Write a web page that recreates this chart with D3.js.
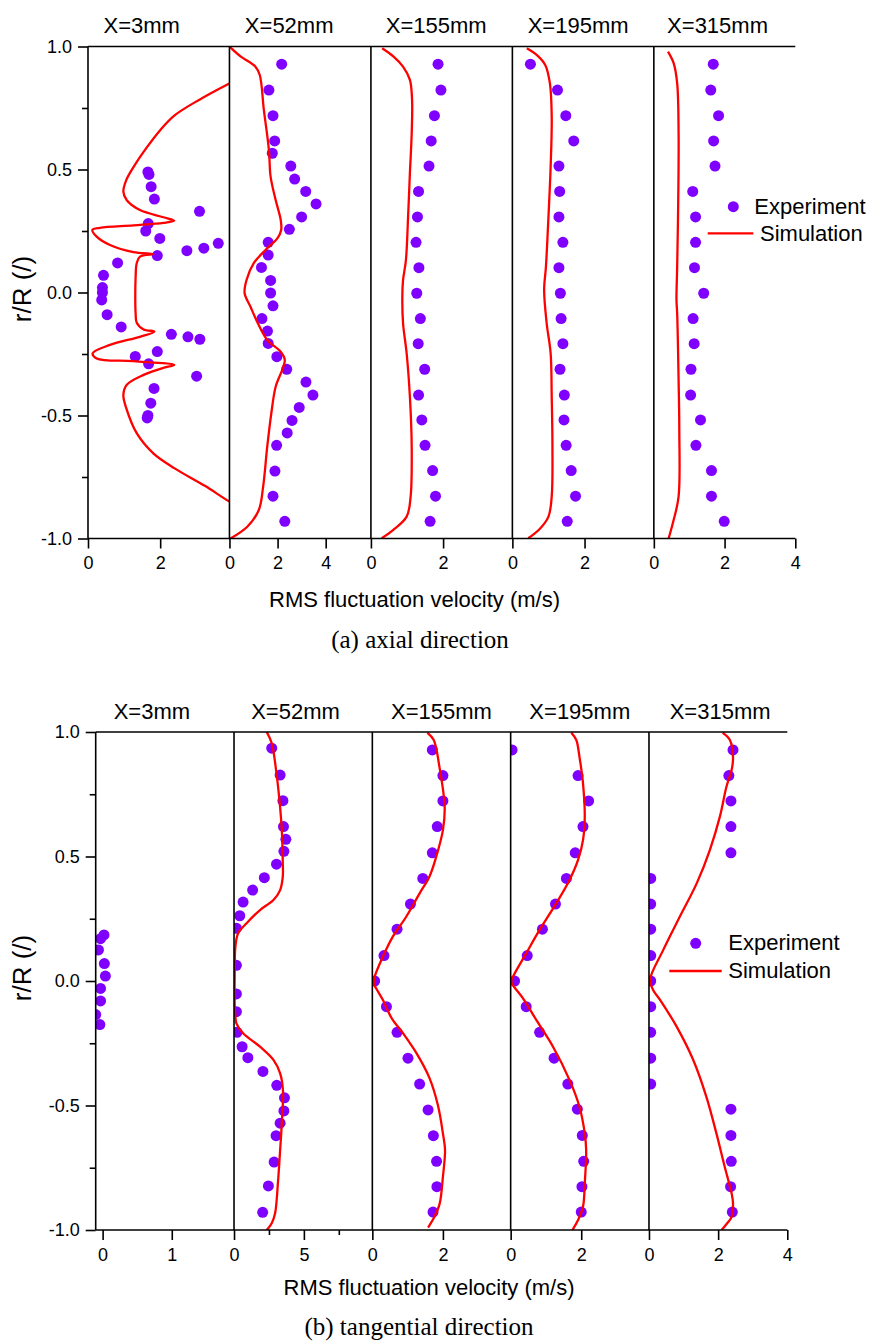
<!DOCTYPE html>
<html><head><meta charset="utf-8">
<script src="https://cdn.jsdelivr.net/npm/d3@7"></script>
<style>body{margin:0;background:#fff;} svg{display:block;}</style>
</head><body>
<svg id="chart" width="871" height="1342"></svg>
<script>
// ---------------- DATA ----------------
const stations = ["X=3mm", "X=52mm", "X=155mm", "X=195mm", "X=315mm"];
const yTicks = [1.0, 0.5, 0.0, -0.5, -1.0];
const yMinorTicks = [0.75, 0.25, -0.25, -0.75];
const xLabel = "RMS fluctuation velocity (m/s)";
const yLabel = "r/R (/)";
const legendLabels = ["Experiment", "Simulation"];
const captions = ["(a) axial direction", "(b) tangential direction"];

const axialXDomains = [[0, 3.92], [0, 5.88], [0, 3.92], [0, 3.92], [0, 4]];
const axialXTicks = [[0, 2], [0, 2, 4], [0, 2], [0, 2], [0, 2, 4]];
const tangXDomains = [[-0.1, 1.9], [0, 9.9], [0, 3.92], [0, 3.92], [0, 4]];
const tangXTicks = [[0, 1], [0, 5], [0, 2], [0, 2], [0, 2, 4]];
const tangXMinor = [[], [2.5, 7.5], [], [], []];

// points are [velocity, r/R]
const axialExp3 = [[1.66,0.49],[1.69,0.48],[1.75,0.43],[1.84,0.38],[3.09,0.33],[1.67,0.28],[1.60,0.25],[1.99,0.22],[2.74,0.17],[3.21,0.18],[3.61,0.20],[1.92,0.15],[0.82,0.12],[0.43,0.07],[0.40,0.02],[0.40,0.00],[0.38,-0.03],[0.53,-0.09],[0.92,-0.14],[2.31,-0.17],[2.77,-0.18],[3.10,-0.19],[1.92,-0.24],[1.31,-0.26],[1.68,-0.29],[3.01,-0.34],[1.83,-0.39],[1.74,-0.45],[1.66,-0.50],[1.64,-0.51]];
const axialSim3 = [[4.6,0.90],[3.92,0.85],[3.10,0.785],[2.40,0.72],[2.0,0.66],[1.63,0.59],[1.26,0.51],[1.06,0.457],[0.98,0.41],[1.07,0.376],[1.44,0.335],[2.09,0.306],[2.39,0.292],[2.09,0.283],[1.26,0.273],[0.33,0.263],[0.12,0.254],[0.24,0.227],[0.61,0.193],[1.26,0.164],[1.81,0.156],[1.44,0.146],[1.35,0.119],[1.32,0.064],[1.31,-0.03],[1.32,-0.085],[1.35,-0.123],[1.54,-0.150],[1.84,-0.159],[1.44,-0.18],[0.61,-0.213],[0.13,-0.247],[0.24,-0.268],[1.26,-0.279],[2.39,-0.295],[2.09,-0.306],[1.54,-0.335],[1.07,-0.376],[0.98,-0.417],[1.06,-0.47],[1.35,-0.572],[1.81,-0.654],[2.40,-0.715],[3.25,-0.787],[3.92,-0.85],[4.6,-0.90]];

const axialExp52 = [[2.17,0.928],[1.64,0.823],[1.81,0.719],[1.88,0.616],[1.78,0.566],[2.55,0.514],[2.71,0.461],[3.17,0.411],[3.60,0.36],[3.00,0.307],[2.49,0.257],[1.61,0.204],[1.61,0.152],[1.33,0.102],[1.71,0.049],[1.71,-0.002],[1.81,-0.054],[1.35,-0.106],[1.58,-0.157],[1.61,-0.207],[1.97,-0.261],[2.38,-0.312],[3.18,-0.364],[3.47,-0.417],[2.90,-0.467],[2.60,-0.52],[2.40,-0.571],[1.96,-0.621],[1.89,-0.726],[1.81,-0.828],[2.30,-0.93]];
const axialSim52 = [[0,1.0],[0.46,0.96],[1.08,0.918],[1.26,0.884],[1.43,0.742],[1.64,0.579],[1.71,0.471],[1.92,0.376],[2.13,0.295],[2.15,0.254],[1.99,0.22],[1.5,0.173],[1.01,0.119],[0.71,0.051],[0.63,-0.003],[0.875,-0.058],[1.15,-0.119],[1.57,-0.193],[2.13,-0.241],[2.30,-0.274],[2.19,-0.315],[1.92,-0.383],[1.74,-0.491],[1.57,-0.627],[1.40,-0.789],[1.22,-0.884],[0.74,-0.952],[0.04,-1.0]];

const axialExp155 = [[1.86,0.928],[1.94,0.823],[1.76,0.719],[1.67,0.616],[1.61,0.514],[1.32,0.411],[1.29,0.307],[1.25,0.204],[1.33,0.101],[1.27,-0.003],[1.37,-0.106],[1.31,-0.208],[1.49,-0.312],[1.32,-0.417],[1.41,-0.518],[1.50,-0.621],[1.71,-0.724],[1.79,-0.828],[1.64,-0.93]];
const axialSim155 = [[0.31,0.993],[0.62,0.96],[0.89,0.918],[1.08,0.864],[1.14,0.783],[1.13,0.647],[1.08,0.485],[1.03,0.308],[0.97,0.132],[0.89,0.05],[0.87,-0.02],[0.89,-0.125],[0.99,-0.247],[1.08,-0.424],[1.13,-0.627],[1.10,-0.83],[0.99,-0.911],[0.62,-0.965],[0.30,-0.999]];

const axialExp195 = [[0.50,0.928],[1.25,0.823],[1.48,0.719],[1.70,0.616],[1.29,0.514],[1.31,0.411],[1.29,0.307],[1.40,0.204],[1.29,0.101],[1.33,-0.003],[1.35,-0.106],[1.40,-0.208],[1.32,-0.312],[1.44,-0.417],[1.43,-0.518],[1.49,-0.621],[1.63,-0.724],[1.75,-0.828],[1.52,-0.93]];
const axialSim195 = [[0.40,0.993],[0.68,0.965],[0.91,0.925],[1.04,0.85],[1.09,0.715],[1.06,0.511],[1.0,0.308],[0.93,0.105],[0.88,0.01],[0.95,-0.125],[1.06,-0.247],[1.09,-0.424],[1.11,-0.627],[1.09,-0.83],[1.0,-0.911],[0.77,-0.959],[0.44,-0.999]];

const axialExp315 = [[1.68,0.928],[1.61,0.823],[1.83,0.719],[1.69,0.616],[1.73,0.514],[1.10,0.411],[1.18,0.307],[1.18,0.204],[1.15,0.101],[1.41,-0.003],[1.11,-0.106],[1.14,-0.208],[1.05,-0.312],[1.04,-0.417],[1.32,-0.518],[1.19,-0.621],[1.63,-0.724],[1.63,-0.828],[1.99,-0.93]];
const axialSim315 = [[0.40,0.979],[0.56,0.932],[0.66,0.85],[0.70,0.647],[0.69,0.376],[0.66,0.105],[0.64,-0.03],[0.66,-0.085],[0.70,-0.356],[0.72,-0.559],[0.70,-0.83],[0.56,-0.925],[0.42,-0.999]];

const tangExp3 = [[0.02,0.185],[-0.03,0.17],[-0.06,0.125],[0.025,0.07],[0.04,0.02],[-0.03,-0.03],[-0.03,-0.08],[-0.1,-0.135],[-0.04,-0.175]];
const tangSim3 = [];

const tangExp52 = [[2.70,0.935],[3.30,0.827],[3.50,0.724],[3.54,0.62],[3.71,0.569],[3.57,0.521],[3.04,0.469],[2.17,0.415],[1.33,0.365],[0.65,0.317],[0.41,0.262],[0.17,0.212],[0.17,0.063],[0.17,-0.052],[0.17,-0.123],[0.22,-0.206],[0.58,-0.264],[0.99,-0.308],[2.07,-0.363],[3.06,-0.419],[3.61,-0.469],[3.57,-0.522],[3.30,-0.571],[3.01,-0.621],[2.87,-0.727],[2.46,-0.823],[2.05,-0.929]];
const tangSim52 = [[2.34,1.0],[2.70,0.955],[3.01,0.847],[3.25,0.727],[3.42,0.606],[3.49,0.473],[3.49,0.419],[3.30,0.365],[2.82,0.325],[1.86,0.285],[0.90,0.232],[0.29,0.191],[0.10,0.138],[0.05,0.031],[0.05,-0.1],[0.10,-0.143],[0.17,-0.17],[0.65,-0.21],[1.86,-0.264],[2.82,-0.317],[3.30,-0.371],[3.50,-0.438],[3.42,-0.571],[3.30,-0.679],[3.14,-0.813],[2.94,-0.933],[2.70,-0.973],[2.34,-1.0]];

const tangExp155 = [[1.70,0.928],[2.0,0.825],[2.0,0.723],[1.84,0.62],[1.70,0.515],[1.43,0.412],[1.08,0.309],[0.70,0.208],[0.33,0.102],[0.065,0.0],[0.40,-0.103],[0.70,-0.206],[1.01,-0.31],[1.34,-0.414],[1.58,-0.518],[1.73,-0.621],[1.82,-0.724],[1.83,-0.826],[1.72,-0.928]];
const tangSim155 = [[1.56,0.997],[1.74,0.968],[1.90,0.861],[2.05,0.70],[2.0,0.606],[1.81,0.499],[1.62,0.42],[1.34,0.352],[0.96,0.258],[0.58,0.178],[0.30,0.098],[0.065,0.017],[0.04,-0.01],[0.11,-0.03],[0.30,-0.076],[0.55,-0.15],[0.87,-0.21],[1.25,-0.29],[1.62,-0.39],[1.86,-0.5],[2.0,-0.612],[2.06,-0.679],[2.0,-0.786],[1.91,-0.893],[1.76,-0.947],[1.58,-0.99]];

const tangExp195 = [[0.04,0.928],[1.91,0.825],[2.21,0.723],[2.05,0.62],[1.83,0.515],[1.58,0.412],[1.27,0.309],[0.90,0.208],[0.47,0.102],[0.11,0.0],[0.44,-0.103],[0.82,-0.206],[1.23,-0.31],[1.62,-0.414],[1.89,-0.515],[2.03,-0.62],[2.07,-0.724],[2.02,-0.826],[2.0,-0.928]];
const tangSim195 = [[1.72,0.997],[1.86,0.968],[1.95,0.90],[2.05,0.794],[2.10,0.66],[2.05,0.566],[1.91,0.486],[1.67,0.406],[1.29,0.312],[0.82,0.205],[0.44,0.111],[0.065,0.017],[0.02,-0.003],[0.35,-0.07],[0.73,-0.157],[1.20,-0.264],[1.67,-0.398],[1.95,-0.505],[2.10,-0.612],[2.14,-0.679],[2.10,-0.813],[2.05,-0.907],[1.91,-0.96],[1.75,-1.0]];

const tangExp315 = [[2.43,0.928],[2.31,0.825],[2.37,0.723],[2.37,0.62],[2.37,0.515],[0.05,0.412],[0.05,0.309],[0.05,0.208],[0.05,0.102],[0.05,0.0],[0.05,-0.103],[0.05,-0.206],[0.05,-0.31],[0.05,-0.414],[2.37,-0.515],[2.37,-0.62],[2.38,-0.724],[2.36,-0.826],[2.41,-0.928]];
const tangSim315 = [[2.13,0.997],[2.34,0.968],[2.43,0.90],[2.39,0.847],[2.24,0.78],[2.05,0.66],[1.76,0.526],[1.38,0.392],[0.89,0.258],[0.41,0.124],[0.03,0.004],[0.12,-0.036],[0.32,-0.076],[0.80,-0.183],[1.28,-0.317],[1.66,-0.465],[1.95,-0.612],[2.19,-0.746],[2.39,-0.853],[2.43,-0.893],[2.39,-0.947],[2.25,-0.975],[2.10,-1.0]];

// ---------------- LAYOUT / STYLE ----------------
const FONT = "'Liberation Sans', Arial, Helvetica, sans-serif";
const SERIF = "'Liberation Serif', 'Times New Roman', serif";
const DOT = "#7f00ff";
const RED = "#ff0000";

const blocks = [
  {
    left: 88, right: 795.3, top: 46.5, bottom: 538.5,
    domains: axialXDomains, ticks: axialXTicks, minor: [[],[],[],[],[]],
    exp: [axialExp3, axialExp52, axialExp155, axialExp195, axialExp315],
    sim: [axialSim3, axialSim52, axialSim155, axialSim195, axialSim315],
    titleShift: [-17, -11, -5.5, -5, -7], titleY: 33,
    yLabelPos: [31, 289], xLabelPos: [414.5, 607], caption: captions[0], captionPos: [420, 648],
    legend: {dot: [733.3, 206.7], expText: [754.3, 213.5], line: [707.7, 753.3, 233.3], simText: [760, 241]}
  },
  {
    left: 95.7, right: 787.3, top: 732, bottom: 1230,
    domains: tangXDomains, ticks: tangXTicks, minor: tangXMinor,
    exp: [tangExp3, tangExp52, tangExp155, tangExp195, tangExp315],
    sim: [tangSim3, tangSim52, tangSim155, tangSim195, tangSim315],
    titleShift: [-13, -7.7, 0, 0, 2], titleY: 719,
    yLabelPos: [31, 968], xLabelPos: [429, 1295], caption: captions[1], captionPos: [419, 1335],
    legend: {dot: [695.7, 943.3], expText: [728.3, 950], line: [669.3, 721.7, 971], simText: [728.3, 978]}
  }
];

const svg = d3.select("#chart");
svg.append("rect").attr("width", 871).attr("height", 1342).attr("fill", "#fff");

blocks.forEach((b, bi) => {
  const g = svg.append("g");
  const y = d3.scaleLinear().domain([-1, 1]).range([b.bottom, b.top]);
  const w = (b.right - b.left) / stations.length;

  // y axis (major + minor)
  const yAxis = g.append("g").attr("transform", `translate(${b.left},0)`)
    .call(d3.axisLeft(y).tickValues(yTicks).tickSize(10).tickPadding(6).tickFormat(d => d.toFixed(1)));
  yAxis.select(".domain").remove();
  yAxis.selectAll("line").attr("stroke", "#000").attr("stroke-width", 1.6);
  yAxis.selectAll("text").attr("font-family", FONT).attr("font-size", 18).attr("fill", "#000");
  const yMinor = g.append("g").attr("transform", `translate(${b.left},0)`)
    .call(d3.axisLeft(y).tickValues(yMinorTicks).tickSize(6).tickFormat(""));
  yMinor.select(".domain").remove();
  yMinor.selectAll("line").attr("stroke", "#000").attr("stroke-width", 1.6);

  stations.forEach((st, i) => {
    const x0 = b.left + i * w, x1 = x0 + w;
    const x = d3.scaleLinear().domain(b.domains[i]).range([x0, x1]);

    const clipId = `clip-${bi}-${i}`;
    svg.append("clipPath").attr("id", clipId).append("rect")
      .attr("x", x0).attr("y", b.top).attr("width", w).attr("height", b.bottom - b.top);

    const plot = g.append("g").attr("clip-path", `url(#${clipId})`);
    plot.selectAll("circle").data(b.exp[i]).join("circle")
      .attr("cx", d => x(d[0])).attr("cy", d => y(d[1])).attr("r", 5.5).attr("fill", DOT);
    if (b.sim[i].length) {
      plot.append("path").datum(b.sim[i])
        .attr("d", d3.line().x(d => x(d[0])).y(d => y(d[1])).curve(d3.curveCatmullRom.alpha(0.5)))
        .attr("fill", "none").attr("stroke", RED).attr("stroke-width", 2.3);
    }

    // x axis for this panel
    const xa = g.append("g").attr("transform", `translate(0,${b.bottom})`)
      .call(d3.axisBottom(x).tickValues(b.ticks[i]).tickSize(10).tickSizeOuter(0).tickPadding(8)
        .tickFormat(d => String(d)));
    xa.select(".domain").remove();
    xa.selectAll("line").attr("stroke", "#000").attr("stroke-width", 1.6);
    xa.selectAll("text").attr("font-family", FONT).attr("font-size", 18).attr("fill", "#000");
    if (b.minor[i].length) {
      const xm = g.append("g").attr("transform", `translate(0,${b.bottom})`)
        .call(d3.axisBottom(x).tickValues(b.minor[i]).tickSize(5).tickSizeOuter(0).tickFormat(""));
      xm.select(".domain").remove();
      xm.selectAll("line").attr("stroke", "#000").attr("stroke-width", 1.6);
    }

    // panel left line
    g.append("line").attr("x1", x0).attr("x2", x0).attr("y1", b.top).attr("y2", b.bottom)
      .attr("stroke", "#000").attr("stroke-width", 1.6);

    // title
    g.append("text").attr("x", (x0 + x1) / 2 + b.titleShift[i]).attr("y", b.titleY)
      .attr("text-anchor", "middle").attr("font-family", FONT).attr("font-size", 22).text(st);
  });

  // frame top & bottom
  g.append("line").attr("x1", b.left).attr("x2", b.right).attr("y1", b.top).attr("y2", b.top)
    .attr("stroke", "#000").attr("stroke-width", 1.6);
  g.append("line").attr("x1", b.left).attr("x2", b.right).attr("y1", b.bottom).attr("y2", b.bottom)
    .attr("stroke", "#000").attr("stroke-width", 1.6);

  // axis labels
  g.append("text").attr("transform", `translate(${b.yLabelPos[0]},${b.yLabelPos[1]}) rotate(-90)`)
    .attr("text-anchor", "middle").attr("font-family", FONT).attr("font-size", 26).text(yLabel);
  g.append("text").attr("x", b.xLabelPos[0]).attr("y", b.xLabelPos[1])
    .attr("text-anchor", "middle").attr("font-family", FONT).attr("font-size", 22).text(xLabel);
  g.append("text").attr("x", b.captionPos[0]).attr("y", b.captionPos[1])
    .attr("text-anchor", "middle").attr("font-family", SERIF).attr("font-size", 25).text(b.caption);

  // legend
  const L = b.legend;
  g.append("circle").attr("cx", L.dot[0]).attr("cy", L.dot[1]).attr("r", 5.5).attr("fill", DOT);
  g.append("text").attr("x", L.expText[0]).attr("y", L.expText[1])
    .attr("font-family", FONT).attr("font-size", 22).text(legendLabels[0]);
  g.append("line").attr("x1", L.line[0]).attr("x2", L.line[1]).attr("y1", L.line[2]).attr("y2", L.line[2])
    .attr("stroke", RED).attr("stroke-width", 2.3);
  g.append("text").attr("x", L.simText[0]).attr("y", L.simText[1])
    .attr("font-family", FONT).attr("font-size", 22).text(legendLabels[1]);
});
</script>
</body></html>
